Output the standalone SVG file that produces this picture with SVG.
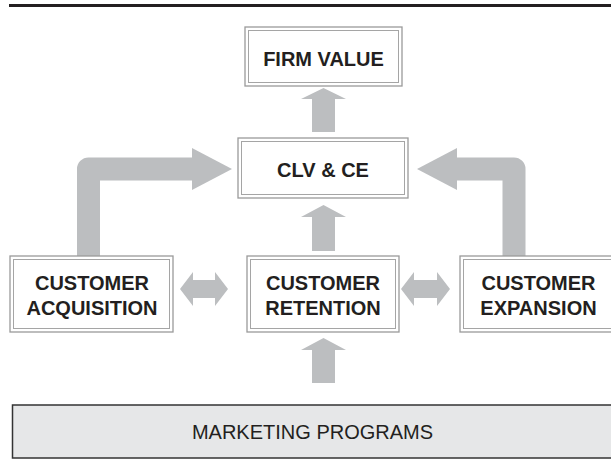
<svg xmlns="http://www.w3.org/2000/svg" width="611" height="475" viewBox="0 0 611 475">
<style>
.frame{fill:#fff;stroke:#9a9a9a;stroke-width:1.3}
.inner{fill:none;stroke:#a5a5a5;stroke-width:1}
.bev{stroke:#a5a5a5;stroke-width:0.8}
.lbl{font-family:"Liberation Sans",Arial,sans-serif;font-weight:bold;font-size:20px;fill:#231f20;text-anchor:middle}
.arr{fill:#bcbec0}
.shaft{fill:none;stroke:#bcbec0;stroke-width:23;stroke-linejoin:round}
</style>
<rect width="611" height="475" fill="#fff"/>
<rect x="9" y="4" width="602" height="3" fill="#231f20"/>

<g id="connectors">
  <polygon class="arr" points="323.5,88 346,99 335,99 335,132 312,132 312,99 301,99"/>
  <polygon class="arr" points="323.5,205 346,217 335,217 335,251 312,251 312,217 301,217"/>
  <polygon class="arr" points="323.5,338 346,350 335,350 335,383 312,383 312,350 301,350"/>
  <path class="shaft" d="M88.5 258 V169 H194"/>
  <polygon class="arr" points="192,148 232,169 192,190"/>
  <path class="shaft" d="M514 258 V169 H455"/>
  <polygon class="arr" points="457,148 417,169 457,190"/>
  <polygon class="arr" points="180,289 193,272 193,280 215,280 215,272 228,289 215,306 215,298 193,298 193,306"/>
  <polygon class="arr" points="401,289 414,272 414,280 437,280 437,272 450,289 437,306 437,298 414,298 414,306"/>
</g>

<g id="firm-value">
  <rect class="frame" x="245" y="27" width="157" height="59"/>
  <rect class="inner" x="248.5" y="30.5" width="150" height="52"/>
  <text class="lbl" x="323.5" y="66">FIRM VALUE</text>
</g>

<g id="clv-ce">
  <rect class="frame" x="238" y="138" width="170" height="60"/>
  <rect class="inner" x="241.5" y="141.5" width="163" height="53"/>
  <text class="lbl" x="323" y="176.5">CLV &amp; CE</text>
</g>

<g id="customer-acquisition">
  <rect class="frame" x="10" y="256" width="163" height="76"/>
  <rect class="inner" x="13.5" y="259.5" width="156" height="69"/>
  <text class="lbl" x="92" y="290">CUSTOMER</text>
  <text class="lbl" x="92" y="315">ACQUISITION</text>
</g>

<g id="customer-retention">
  <rect class="frame" x="247" y="256" width="152" height="76"/>
  <rect class="inner" x="250.5" y="259.5" width="145" height="69"/>
  <text class="lbl" x="323" y="290">CUSTOMER</text>
  <text class="lbl" x="323" y="315">RETENTION</text>
</g>

<g id="customer-expansion">
  <rect class="frame" x="460" y="256" width="157" height="76"/>
  <rect class="inner" x="463.5" y="259.5" width="150" height="69"/>
  <text class="lbl" x="538.5" y="290">CUSTOMER</text>
  <text class="lbl" x="538.5" y="315">EXPANSION</text>
</g>

<g id="marketing-programs">
  <rect x="12.5" y="405" width="601" height="53" fill="#e6e7e8" stroke="#333" stroke-width="1.5"/>
  <text x="312.5" y="439" font-family="'Liberation Sans',Arial,sans-serif" font-size="20" fill="#231f20" text-anchor="middle">MARKETING PROGRAMS</text>
</g>
</svg>
